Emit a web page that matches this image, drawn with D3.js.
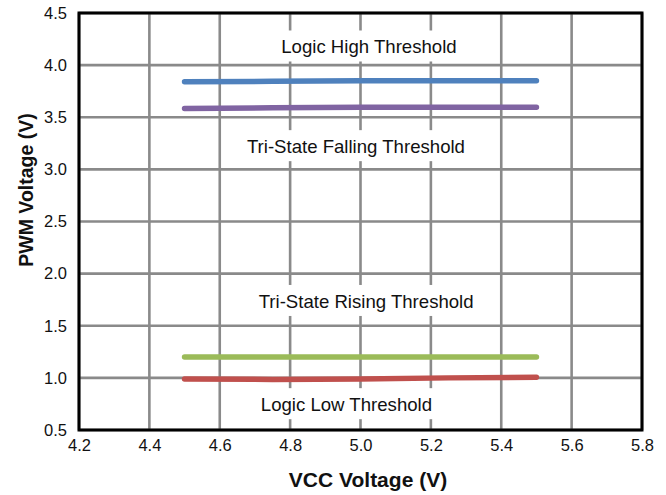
<!DOCTYPE html>
<html><head><meta charset="utf-8">
<script src="https://cdn.jsdelivr.net/npm/d3@7"></script>
<style>body{margin:0;background:#fff;} svg{display:block;font-family:"Liberation Sans",Arial,sans-serif;}</style>
</head><body>
<script>
const vcc = [4.5, 4.75, 5.0, 5.25, 5.5];
const logicHigh = [3.84, 3.845, 3.85, 3.85, 3.85];
const triFalling = [3.585, 3.59, 3.595, 3.595, 3.595];
const triRising = [1.20, 1.20, 1.20, 1.20, 1.20];
const logicLow = [0.99, 0.985, 0.99, 1.0, 1.005];
const xTicks = [4.2, 4.4, 4.6, 4.8, 5.0, 5.2, 5.4, 5.6, 5.8];
const yTicks = [0.5, 1.0, 1.5, 2.0, 2.5, 3.0, 3.5, 4.0, 4.5];
const labelText = ["Logic High Threshold", "Tri-State Falling Threshold", "Tri-State Rising Threshold", "Logic Low Threshold"];
const labelX = [5.024, 4.987, 5.016, 4.96];
const labelY = [4.174, 3.218, 1.733, 0.743];

const W = 666, H = 495;
const m = {l: 79, r: 24, t: 13, b: 65};
const svg = d3.select("body").append("svg").attr("width", W).attr("height", H);
const x = d3.scaleLinear().domain([4.2, 5.8]).range([m.l, W - m.r]);
const y = d3.scaleLinear().domain([0.5, 4.5]).range([H - m.b, m.t]);

// grid
const g = svg.append("g");
g.selectAll(".vx").data(xTicks).join("line")
  .attr("x1", d => x(d)).attr("x2", d => x(d)).attr("y1", y(0.5)).attr("y2", y(4.5))
  .attr("stroke", "#8a8a8a").attr("stroke-width", 2.6);
g.selectAll(".hy").data(yTicks).join("line")
  .attr("y1", d => y(d)).attr("y2", d => y(d)).attr("x1", x(4.2)).attr("x2", x(5.8))
  .attr("stroke", "#8a8a8a").attr("stroke-width", 2.6);

// labels with white boxes
const lg = svg.append("g");
labelText.forEach((t, i) => {
  const tx = lg.append("text").attr("x", x(labelX[i])).attr("y", y(labelY[i]))
    .attr("text-anchor", "middle").attr("dominant-baseline", "central")
    .attr("font-size", 18.6).attr("fill", "#111").text(t);
  const bb = tx.node().getBBox();
  lg.insert("rect", "text").attr("x", bb.x - 22).attr("y", bb.y - 6)
    .attr("width", bb.width + 44).attr("height", bb.height + 10).attr("fill", "#fff");
});

// frame
svg.append("rect").attr("x", x(4.2)).attr("y", y(4.5)).attr("width", x(5.8) - x(4.2))
  .attr("height", y(0.5) - y(4.5)).attr("fill", "none").attr("stroke", "#000").attr("stroke-width", 3);

// series
const series = [
  {v: logicHigh, c: "#4f81bd"},
  {v: triFalling, c: "#8064a2"},
  {v: triRising, c: "#9bbb59"},
  {v: logicLow, c: "#c0504d"}
];
const line = d3.line().x((d, i) => x(vcc[i])).y(d => y(d));
svg.selectAll(".s").data(series).join("path")
  .attr("d", d => line(d.v)).attr("fill", "none").attr("stroke", d => d.c)
  .attr("stroke-width", 5.5).attr("stroke-linecap", "round").attr("stroke-linejoin", "round");

// axes
const xa = svg.append("g").attr("transform", `translate(0,${y(0.5)})`)
  .call(d3.axisBottom(x).tickValues(xTicks).tickFormat(d3.format(".1f")).tickSize(0).tickPadding(9));
const ya = svg.append("g").attr("transform", `translate(${x(4.2)},0)`)
  .call(d3.axisLeft(y).tickValues(yTicks).tickFormat(d3.format(".1f")).tickSize(0).tickPadding(12));
[xa, ya].forEach(a => {
  a.select(".domain").remove();
  a.selectAll("text").attr("font-size", 16.5).attr("fill", "#111")
    .attr("font-family", "'Liberation Sans',Arial,sans-serif");
});

svg.append("text").attr("x", 368).attr("y", 487).attr("text-anchor", "middle")
  .attr("font-size", 21).attr("font-weight", "bold").attr("fill", "#111").text("VCC Voltage (V)");
svg.append("text").attr("transform", "translate(33,190) rotate(-90)").attr("text-anchor", "middle")
  .attr("font-size", 19.5).attr("font-weight", "bold").attr("fill", "#111").text("PWM Voltage (V)");
</script>
</body></html>
